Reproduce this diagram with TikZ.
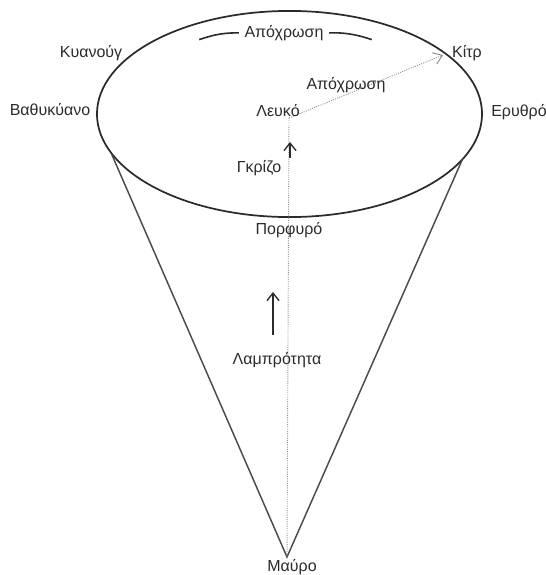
\documentclass[tikz,border=0pt]{standalone}
\usepackage{fontspec}
\setmainfont{Liberation Sans}
\usepackage{tikz}
\usetikzlibrary{positioning,arrows.meta,calc}
\definecolor{ink}{HTML}{2B2B2B}
\definecolor{dotgray}{HTML}{8C8C8C}
\tikzset{
  lbl/.style={font=\fontsize{12}{14}\selectfont,text=ink,inner sep=1pt},
  rim/.style={draw=ink,line width=1.3pt},
  side/.style={draw=ink!85,line width=1.1pt},
  axis/.style={draw=dotgray,densely dotted,line width=.7pt},
  huearrow/.style={-{Straight Barb[length=2.2mm,width=3.2mm]},draw=dotgray,densely dotted,line width=.7pt},
  uparrow/.style={-{Straight Barb[length=2mm,width=3.2mm]},draw=ink,line width=1pt},
  huedash/.style={draw=ink,line width=1.2pt,shorten <=1pt,shorten >=3pt}
}
\begin{document}
\begin{tikzpicture}[x=0.75pt,y=-0.75pt]
  \useasboundingbox (0,0) rectangle (546,575);
  % the colour disc and the cone below it
  \draw[rim] (289.5,114) ellipse [x radius=144.4pt,y radius=77.3pt];
  \coordinate (apex) at (287,557);
  \coordinate (rimL) at (112,155);
  \coordinate (rimR) at (463,158);
  \coordinate (white) at (289,118);
  \coordinate (citron) at (443,55);
  \draw[side] (rimL) -- (apex) -- (rimR);
  \draw[axis] (white) -- (apex);
  \draw[huearrow] (white) -- node[lbl,above,pos=.37]{Απόχρωση} (citron);
  % labels round the rim
  \node[lbl] (cyan) at (91,53) {Κυανούγ};
  \node[lbl] (kitr) at (467,53) {Κίτρ};
  \node[lbl] (deepcyan) at (50,110) {Βαθυκύανο};
  \node[lbl] (red) at (519,112) {Ερυθρό};
  \node[lbl] (white lbl) at (278,111) {Λευκό};
  \node[lbl] (purple) at (289,230) {Πορφυρό};
  \node[lbl] (black) at (292,567) {Μαύρο};
  % hue along the top
  \node[lbl] (hue) at (284,33) {Απόχρωση};
  \coordinate (hueL) at (198,40);
  \coordinate (hueR) at (373,40);
  \draw[huedash] (hueL) to[bend left=10] (hue.west);
  \draw[huedash,shorten <=3pt,shorten >=1pt] (hue.east) to[bend left=10] (hueR);
  % grey and brightness
  \node[lbl] (grey) at (259,168) {Γκρίζο};
  \coordinate (greytail) at (290,158);
  \coordinate (greytip) at (290,142);
  \draw[uparrow] (greytail) -- (greytip);
  \node[lbl] (bright) at (277,360) {Λαμπρότητα};
  \coordinate (brighttail) at (273,335);
  \coordinate (brighttip) at (273,292);
  \draw[uparrow] (brighttail) -- (brighttip);
\end{tikzpicture}
\end{document}
